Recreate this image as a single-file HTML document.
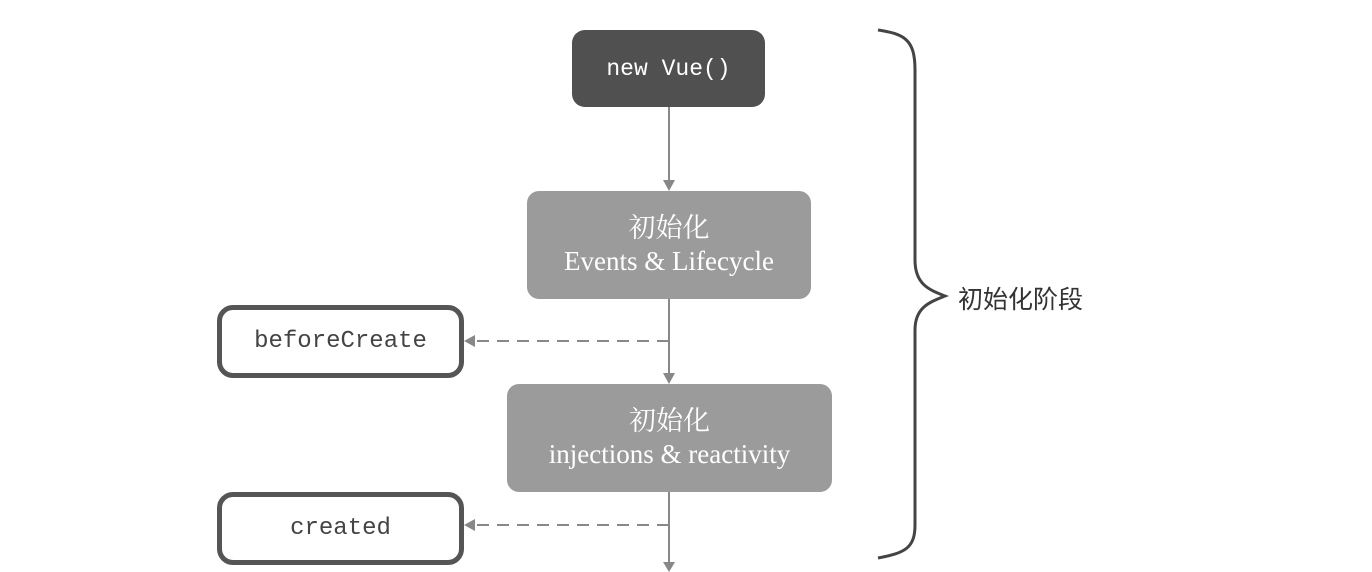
<!DOCTYPE html>
<html><head><meta charset="utf-8"><style>
body{margin:0;width:1372px;height:572px;background:#fff;overflow:hidden;position:relative;font-family:"Liberation Sans","Noto Sans CJK SC",sans-serif}
.b{position:absolute;box-sizing:border-box;display:flex;flex-direction:column;align-items:center;justify-content:center;text-align:center}
.mono{font-family:"Liberation Mono","DejaVu Sans Mono",monospace}
.g{background:#9b9b9b;color:#fff;border-radius:12px;font-family:"Liberation Serif","Noto Serif CJK SC",serif;font-size:27px;line-height:33px}
.h{border:5px solid #555;border-radius:16px;color:#444;font-size:24px;background:#fff}
</style></head><body>
<svg width="1372" height="572" style="position:absolute;left:0;top:0">
<g stroke="#888" stroke-width="2" fill="none">
<line x1="669" y1="107" x2="669" y2="182"/>
<line x1="669" y1="299" x2="669" y2="376"/>
<line x1="669" y1="492" x2="669" y2="565"/>
<line x1="669" y1="341" x2="472" y2="341" stroke-dasharray="12,8"/>
<line x1="669" y1="525" x2="472" y2="525" stroke-dasharray="12,8"/>
</g>
<g fill="#888">
<polygon points="663,180 675,180 669,191"/>
<polygon points="663,373 675,373 669,384"/>
<polygon points="663,562 675,562 669,572"/>
<polygon points="464,341 475,335 475,347"/>
<polygon points="464,525 475,519 475,531"/>
</g>
<path d="M878,30 C905,34 915,40 915,70 L915,260 C915,285 930,290 945,296 C930,302 915,307 915,330 L915,525 C915,548 905,553 878,558" stroke="#444" stroke-width="3" fill="none"/>
</svg>
<div class="b mono" style="left:572px;top:30px;width:193px;height:77px;background:#505050;color:#fff;border-radius:13px;font-size:23px">new Vue()</div>
<div class="b g" style="left:527px;top:191px;width:284px;height:108px"><div>初始化</div><div>Events &amp; Lifecycle</div></div>
<div class="b g" style="left:507px;top:384px;width:325px;height:108px"><div>初始化</div><div>injections &amp; reactivity</div></div>
<div class="b h mono" style="left:217px;top:305px;width:247px;height:73px">beforeCreate</div>
<div class="b h mono" style="left:217px;top:492px;width:247px;height:73px">created</div>
<div style="position:absolute;left:958px;top:280px;font-size:25px;color:#333">初始化阶段</div>
</body></html>
